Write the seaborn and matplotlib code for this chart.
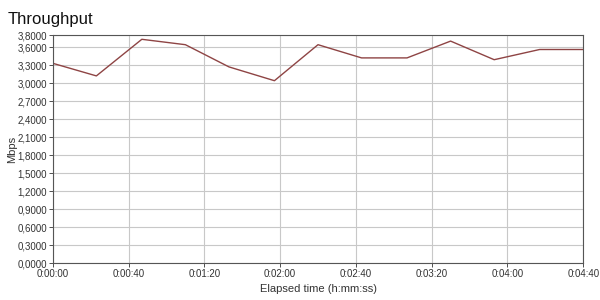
import matplotlib
matplotlib.use("Agg")
import matplotlib.pyplot as plt
import seaborn as sns
import pandas as pd
from matplotlib.ticker import FuncFormatter, FixedLocator

elapsed_s = [0, 23, 47, 70, 93, 117, 140, 163, 187, 210, 233, 257, 280]
mbps = [3.33, 3.12, 3.73, 3.64, 3.27, 3.04, 3.64, 3.42, 3.42, 3.70, 3.39, 3.56, 3.56]
y_ticks = [0.0, 0.3, 0.6, 0.9, 1.2, 1.5, 1.8, 2.1, 2.4, 2.7, 3.0, 3.3, 3.6, 3.8]
x_ticks = [0, 40, 80, 120, 160, 200, 240, 280]

df = pd.DataFrame({"t": elapsed_s, "v": mbps})

sns.set_theme(style="white")
plt.rcParams["font.family"] = ["Liberation Sans", "DejaVu Sans"]

fig = plt.figure(figsize=(6, 3), dpi=100)
ax = fig.add_axes([0.088, 0.123, 0.884, 0.76])
sns.lineplot(data=df, x="t", y="v", ax=ax, color="#8e4444", linewidth=1.0)

ax.set_xlim(0, 280)
ax.set_ylim(0, 3.8)
ax.xaxis.set_major_locator(FixedLocator(x_ticks))
ax.yaxis.set_major_locator(FixedLocator(y_ticks))

def fmt_t(v, pos):
    s = int(round(v))
    return f"{s // 3600}:{(s % 3600) // 60:02d}:{s % 60:02d}"

def fmt_y(v, pos):
    return f"{v:.4f}".replace(".", ",")

ax.xaxis.set_major_formatter(FuncFormatter(fmt_t))
ax.yaxis.set_major_formatter(FuncFormatter(fmt_y))
ax.grid(True, color="#c8c8c8", linewidth=0.8)
for s in ax.spines.values():
    s.set_color("#555555")
    s.set_linewidth(0.8)
ax.tick_params(axis="both", labelsize=7, colors="#333333", length=3, width=0.6,
               direction="out", left=True, bottom=True)
ax.tick_params(axis="x", pad=1)
ax.tick_params(axis="y", pad=1)
ax.set_xlabel("Elapsed time (h:mm:ss)", fontsize=8, color="#333333", labelpad=4)
ax.set_ylabel("Mbps", fontsize=8, color="#333333", labelpad=0)
fig.text(0.012, 0.935, "Throughput", fontsize=12, color="#111111", ha="left", va="center")

fig.savefig("out.png", dpi=100, facecolor="white")
